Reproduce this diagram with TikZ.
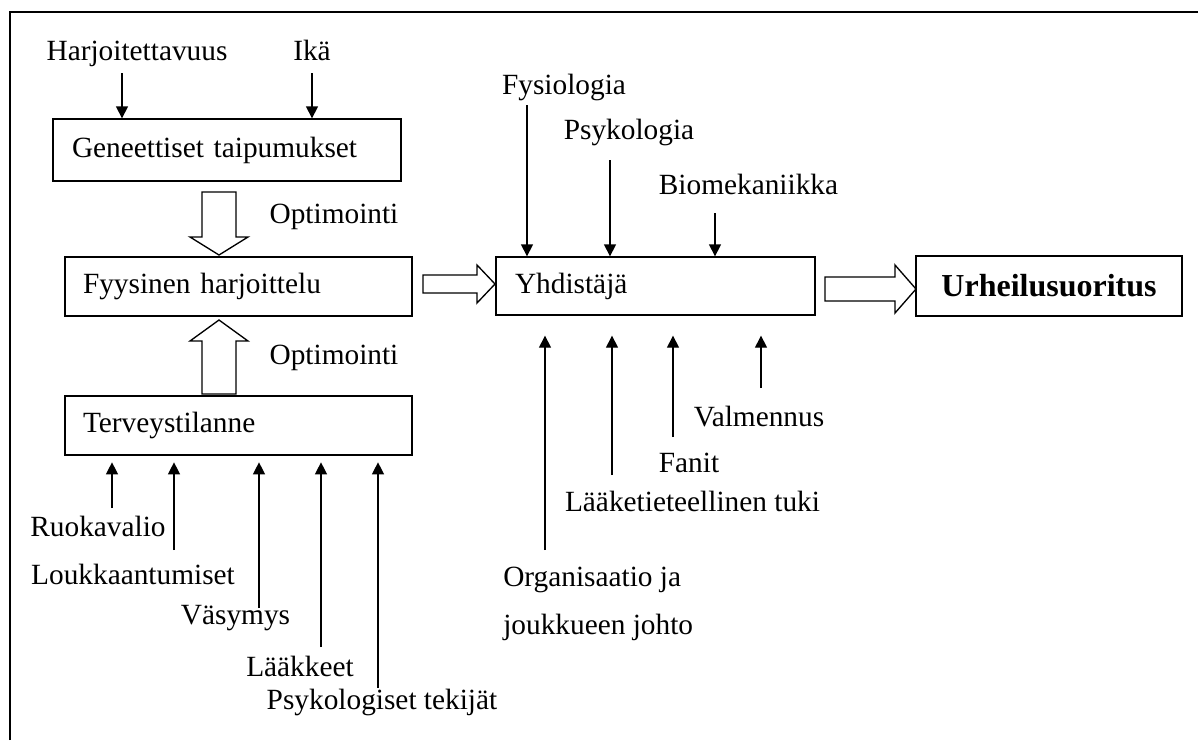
\documentclass[tikz,border=0pt]{standalone}
\usepackage{fontspec}
\setmainfont{Liberation Serif}
\usetikzlibrary{arrows.meta}

\tikzset{
  lbl/.style={font=\fontsize{22}{36}\selectfont, inner sep=0pt},
  onelbl/.style={lbl, text height=15.5pt, text depth=4.5pt},
  box/.style={draw, line width=1pt, font=\fontsize{22}{26}\selectfont, align=left,
    minimum height=44.25pt, inner ysep=0pt},
  arr/.style={line width=1pt, -{Triangle[length=9pt,width=9pt]}},
  hollow/.style={draw, line width=1pt, fill=white}
}

\begin{document}
\begin{tikzpicture}[x=0.75pt,y=-0.75pt]
	\useasboundingbox (0,0) rectangle (1198,740);
	\draw [line width=1pt] (10,740) -- (10,12) -- (1198,12);

	% boxes
	\node [box, minimum height=46.5pt, text width=232.5pt, inner xsep=14.25pt] (gen) at (227,150) {Geneettiset taipumukset};
	\node [box, text width=233.25pt, inner xsep=13.5pt] (fyys) at (238.5,286.5) {Fyysinen harjoittelu};
	\node [box, text width=233.25pt, inner xsep=13.5pt] (terv) at (238.5,425.5) {Terveystilanne};
	\node [box, minimum height=43.5pt, text width=210.75pt, inner xsep=14.25pt] (yhd) at (655.5,286) {Yhdistäjä};
	\node [draw, line width=2.2pt, minimum width=199.5pt, minimum height=45pt,
		font=\fontsize{24}{28}\selectfont\bfseries] (urh) at (1049,286) {Urheilusuoritus};

	% labels
	\node [onelbl] (harj) at (137,52.7) {Harjoitettavuus};
	\node [onelbl] (ika) at (312,52.7) {Ikä};
	\node [onelbl] (opt1) at (334,216) {Optimointi};
	\node [onelbl] (opt2) at (334,357) {Optimointi};
	\node [onelbl] (ruoka) at (98,529.4) {Ruokavalio};
	\node [onelbl] (louk) at (133,577) {Loukkaantumiset};
	\node [onelbl] (vasy) at (235.5,617) {Väsymys};
	\node [onelbl] (laak) at (300,669) {Lääkkeet};
	\node [onelbl] (psyt) at (382,702) {Psykologiset tekijät};
	\node [onelbl] (fysi) at (564,87) {Fysiologia};
	\node [onelbl] (psyk) at (629,132) {Psykologia};
	\node [onelbl] (biom) at (748.5,187) {Biomekaniikka};
	\node [lbl, align=left, anchor=west] (org) at (503,604) {Organisaatio ja\\joukkueen johto};
	\node [onelbl] (laake) at (692.5,504) {Lääketieteellinen tuki};
	\node [onelbl] (fani) at (689,465) {Fanit};
	\node [onelbl] (valm) at (759,419) {Valmennus};

	% thin arrows
	\foreach \x/\y [count=\i] in {122/73, 312/73} {
		\coordinate (g\i) at (\x,\y);
		\draw [arr] (g\i) -- (g\i |- gen.north);
	}
	\foreach \x/\y [count=\i] in {112/508, 174/550, 259/608, 321/647, 378/688} {
		\coordinate (t\i) at (\x,\y);
		\draw [arr, shorten >=5pt] (t\i) -- (t\i |- terv.south);
	}
	\foreach \x/\y [count=\i] in {527/105, 610/160, 715/213} {
		\coordinate (y\i) at (\x,\y);
		\draw [arr] (y\i) -- (y\i |- yhd.north);
	}
	\foreach \x/\y [count=\i] in {545/550, 612/475, 673/437, 761/388} {
		\coordinate (b\i) at (\x,\y);
		\draw [arr, shorten >=15pt] (b\i) -- (b\i |- yhd.south);
	}

	% hollow arrows
	\draw [hollow] (202,192) -- (236,192) -- (236,237) -- (248,237) -- (219,255) -- (190,237) -- (202,237) -- cycle;
	\draw [hollow] (202,394) -- (236,394) -- (236,341) -- (248,341) -- (219,320) -- (190,341) -- (202,341) -- cycle;
	\draw [hollow] (423,275) -- (477,275) -- (477,265) -- (495,284) -- (477,303) -- (477,293) -- (423,293) -- cycle;
	\draw [hollow] (825,277) -- (895,277) -- (895,265) -- (916,289) -- (895,313) -- (895,301) -- (825,301) -- cycle;
\end{tikzpicture}
\end{document}
